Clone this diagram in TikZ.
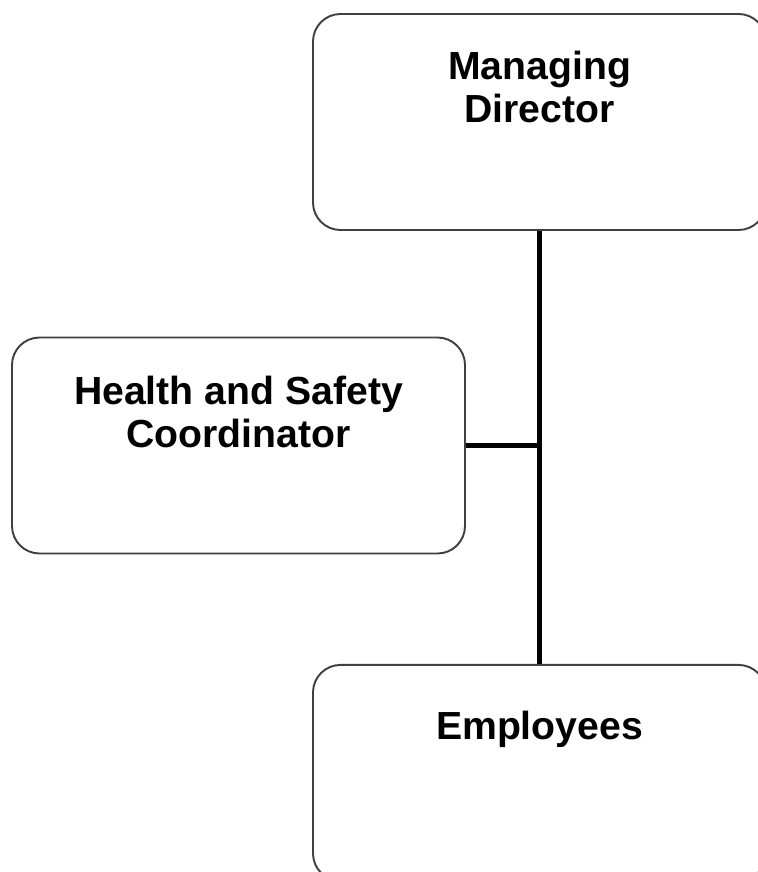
\documentclass[tikz,border=0pt]{standalone}
\usepackage{fontspec}
\setmainfont{Liberation Sans}
\usetikzlibrary{positioning}

\begin{document}
\begin{tikzpicture}[
        unit/.style={
                rectangle,
                rounded corners=0.55cm,
                draw=black!75,
                line width=1.1pt,
                minimum width = 9.06cm,
                minimum height = 4.32cm
            },
        heading/.style = {anchor=north, inner sep=0pt, align=center, font=\fontsize{22.3}{24.5}\selectfont\bfseries},
        trunk/.style = {line width=3.4pt},
        branch/.style = {line width=2.4pt}
    ]
    \useasboundingbox (0,0) rectangle (15.14,-17.44);

    \node[unit,label={[heading,yshift=-0.76cm]north:{Managing\\Director}}] (md) at (10.79,-2.44) {};
    \node[unit,label={[heading,yshift=-0.78cm]north:{Health and Safety\\Coordinator}}] (hs) at (4.77,-8.91) {};
    \node[unit,label={[heading,yshift=-0.94cm]north:{Employees}}] (emp) [below=8.66cm of md] {};

    \coordinate (jn) at (md.south |- hs.east);
    \draw[trunk] (md.south) |- (hs.east);
    \draw[branch] (jn) -- (emp.north);
\end{tikzpicture}
\end{document}
